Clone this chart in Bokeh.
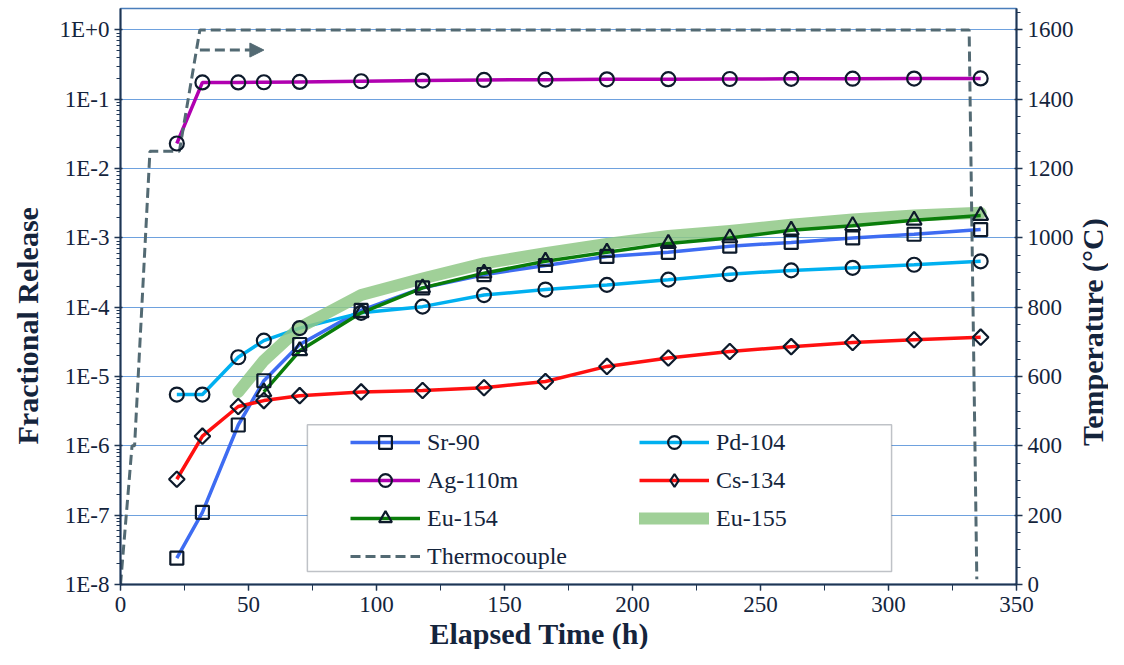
import math
from bokeh.plotting import figure
from bokeh.layouts import row
from bokeh.models import (Range1d, LinearAxis, LinearScale, FixedTicker, Legend, LegendItem,
                          BoxAnnotation, Arrow, NormalHead, Label, Title)
from bokeh.embed import file_html
from bokeh.resources import INLINE

# ---------------- data ----------------
time_h = [22, 32, 46, 56, 70, 94, 118, 142, 166, 190, 214, 238, 262, 286, 310, 336]
sr90 = [2.4e-8, 1.1e-7, 2.0e-6, 8.7e-6, 2.9e-5, 9.0e-5, 1.9e-4, 2.95e-4, 4.0e-4,
        5.4e-4, 6.2e-4, 7.6e-4, 8.6e-4, 1.0e-3, 1.13e-3, 1.32e-3]
pd104 = [5.5e-6, 5.5e-6, 1.9e-5, 3.3e-5, 5.0e-5, 8.3e-5, 1.02e-4, 1.5e-4, 1.8e-4,
         2.1e-4, 2.5e-4, 3.0e-4, 3.4e-4, 3.7e-4, 4.1e-4, 4.6e-4]
ag110m = [0.023, 0.175, 0.175, 0.176, 0.178, 0.182, 0.186, 0.19, 0.192,
          0.194, 0.195, 0.196, 0.197, 0.198, 0.199, 0.2]
cs134 = [3.3e-7, 1.38e-6, 3.7e-6, 4.5e-6, 5.3e-6, 6.0e-6, 6.3e-6, 6.9e-6, 8.5e-6,
         1.4e-5, 1.85e-5, 2.3e-5, 2.7e-5, 3.1e-5, 3.4e-5, 3.7e-5]
eu154_time = [56, 70, 94, 118, 142, 166, 190, 214, 238, 262, 286, 310, 336]
eu154 = [6.0e-6, 2.35e-5, 8.3e-5, 1.9e-4, 3.1e-4, 4.6e-4, 6.2e-4, 8.3e-4, 1.0e-3,
         1.29e-3, 1.5e-3, 1.8e-3, 2.1e-3]
eu155_time = [46, 56, 70, 94, 118, 142, 166, 190, 214, 238, 262, 286, 310, 336]
eu155 = [6.0e-6, 1.7e-5, 5.1e-5, 1.5e-4, 2.6e-4, 4.3e-4, 6.0e-4, 8.2e-4, 1.07e-3,
         1.26e-3, 1.55e-3, 1.85e-3, 2.1e-3, 2.3e-3]
tc_time = [0, 4.5, 5.5, 11.5, 23, 31, 331.5, 334.5]
tc_temp = [0, 400, 400, 1250, 1250, 1600, 1600, 15]

x_ticks = [0, 50, 100, 150, 200, 250, 300, 350]
y_tick_values = [1e-8, 1e-7, 1e-6, 1e-5, 1e-4, 1e-3, 1e-2, 1e-1, 1.0]
y_tick_labels = ["1E-8", "1E-7", "1E-6", "1E-5", "1E-4", "1E-3", "1E-2", "1E-1", "1E+0"]
temp_ticks = [0, 200, 400, 600, 800, 1000, 1200, 1400, 1600]

# ---------------- styles ----------------
FONT = "Liberation Serif"
TXT = "#14243c"
AXC = "#1f3552"
MK = "#0d1a2b"
TC_COL = "#536a73"
LW = 3.5

p = figure(width=1076, height=649, output_backend="svg", toolbar_location=None,
           y_axis_type="log", x_range=Range1d(0, 350), y_range=Range1d(1e-8, 2.04),
           min_border_left=120, min_border_right=59, min_border_top=8,
           min_border_bottom=64)
p.extra_y_ranges = {"temp": Range1d(0, 1661.9), "key": Range1d(1.0, 2.0)}
p.extra_y_scales = {"temp": LinearScale()}
p.background_fill_color = "white"
p.border_fill_color = "white"
p.outline_line_color = "#4a7ebb"
p.outline_line_width = 1.5

# axes
minor_y = [k * 10.0 ** e for e in range(-8, 0) for k in range(2, 10)]
p.yaxis[0].ticker = FixedTicker(ticks=y_tick_values, minor_ticks=minor_y)
p.yaxis[0].major_label_overrides = {v: s for v, s in zip(y_tick_values, y_tick_labels)}
p.xaxis[0].ticker = FixedTicker(ticks=x_ticks, minor_ticks=list(range(0, 351, 25)))

right = LinearAxis(y_range_name="temp",
                   ticker=FixedTicker(ticks=temp_ticks, minor_ticks=list(range(0, 1651, 50))))
p.add_layout(right, "right")

for ax in [p.xaxis[0], p.yaxis[0], right]:
    ax.axis_line_color = AXC
    ax.axis_line_width = 2
    ax.major_tick_line_color = AXC
    ax.minor_tick_line_color = AXC
    ax.major_tick_line_width = 1.5
    ax.minor_tick_line_width = 1
    ax.major_tick_out = 6
    ax.major_tick_in = 2
    ax.minor_tick_out = 4
    ax.minor_tick_in = 0
    ax.major_label_text_font = FONT
    ax.major_label_text_font_size = "23px"
    ax.major_label_text_color = TXT
    ax.major_label_standoff = 5
p.xaxis[0].major_tick_in = 0
p.xaxis[0].minor_tick_out = 6
p.xaxis[0].major_label_standoff = 6

p.xgrid.visible = False
p.ygrid.grid_line_color = "#6ea1de"
p.ygrid.grid_line_width = 1

# axis titles (placed like the original, off-centre)
tstyle = dict(text_font=FONT, text_font_style="bold", text_font_size="30px",
              text_color=TXT)
p.add_layout(Title(text="Elapsed Time (h)", align="left", offset=309, standoff=0,
                   **tstyle), "below")
p.add_layout(Title(text="Fractional Release", align="left", offset=140, standoff=21,
                   vertical_align="top", **tstyle), "left")

# ---------------- series ----------------
r_sr_l = p.line(time_h, sr90, line_color="#3e6cf2", line_width=LW)
r_pd_l = p.line(time_h, pd104, line_color="#00b0f0", line_width=LW)
r_ag_l = p.line(time_h, ag110m, line_color="#b000b0", line_width=LW)
r_cs_l = p.line(time_h, cs134, line_color="#ff1010", line_width=LW)
r_e5_l = p.line(eu155_time, eu155, line_color="#8fc886", line_width=12,
                line_alpha=0.85, line_cap="round", line_join="round")
r_e4_l = p.line(eu154_time, eu154, line_color="#0a7d0a", line_width=LW)
r_tc = p.line(tc_time, tc_temp, y_range_name="temp", line_color=TC_COL,
              line_width=3, line_dash="10 5")

mk = dict(fill_alpha=0, line_color=MK, line_width=2.2)
r_sr_m = p.scatter(time_h, sr90, marker="square", size=13, **mk)
r_pd_m = p.scatter(time_h, pd104, marker="circle", size=14, **mk)
r_ag_m = p.scatter(time_h, ag110m, marker="circle", size=14, **mk)
r_cs_m = p.scatter(time_h, cs134, marker="square", angle=math.pi / 4, size=11, **mk)
r_e4_m = p.scatter(eu154_time, eu154, marker="triangle", size=15, **mk)
# legend-only diamond key: same Cs data on a range where it falls outside the view
r_cs_key = p.scatter(time_h, cs134, y_range_name="key", marker="diamond", size=15, **mk)

p.add_layout(Arrow(x_start=31, y_start=1542, x_end=56, y_end=1542, y_range_name="temp",
                   line_color=TC_COL, line_width=3, line_dash="10 5",
                   end=NormalHead(size=14, fill_color=TC_COL, line_color=TC_COL)))

# ---------------- legend ----------------
box = BoxAnnotation(left=73.0, right=301.2, top=2.01e-6, bottom=1.54e-8,
                    fill_color="white", fill_alpha=1.0, line_color="#2a3444",
                    line_width=1.5)
p.add_layout(box)

legend = Legend(items=[
    LegendItem(label="Sr-90", renderers=[r_sr_l, r_sr_m]),
    LegendItem(label="Pd-104", renderers=[r_pd_l, r_pd_m]),
    LegendItem(label="Ag-110m", renderers=[r_ag_l, r_ag_m]),
    LegendItem(label="Cs-134", renderers=[r_cs_l, r_cs_key]),
    LegendItem(label="Eu-154", renderers=[r_e4_l, r_e4_m]),
    LegendItem(label="Eu-155", renderers=[r_e5_l]),
    LegendItem(label="Thermocouple", renderers=[r_tc]),
], location=(230, 12), orientation="horizontal", ncols=2,
    glyph_width=70, glyph_height=32, label_height=32, label_width=206,
    label_standoff=7, spacing=6, padding=0, margin=0,
    background_fill_alpha=0, border_line_alpha=0,
    label_text_font=FONT, label_text_font_size="24px", label_text_color=TXT)
p.add_layout(legend)

# ---------------- right-hand title strip ----------------
p2 = figure(width=32, height=649, output_backend="svg", toolbar_location=None,
            x_range=Range1d(0, 1), y_range=Range1d(0, 1),
            x_axis_location=None, y_axis_location=None,
            min_border_left=0, min_border_right=0, min_border_top=0, min_border_bottom=0)
p2.grid.visible = False
p2.outline_line_color = None
p2.background_fill_color = "white"
p2.border_fill_color = "white"
p2.add_layout(Label(x=0.5, y=0.438, text="Temperature (°C)", angle=math.pi / 2,
                    text_align="center", text_baseline="middle", **tstyle))

layout = row(p, p2, spacing=0)
open("out.html", "w").write(file_html(layout, INLINE))
